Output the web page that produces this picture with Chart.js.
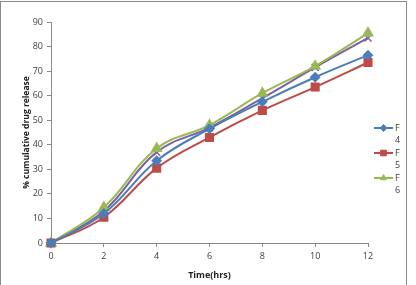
<!DOCTYPE html>
<html><head><meta charset="utf-8">
<script src="https://cdn.jsdelivr.net/npm/chart.js@4/dist/chart.umd.min.js"></script>
<style>
html,body{margin:0;padding:0;background:#fff;}
#wrap{position:absolute;left:0;top:0;width:416px;height:285px;}
#frame{position:absolute;left:0;top:1px;width:407px;height:290px;border:1px solid #8a8a8a;box-sizing:border-box;pointer-events:none;}
</style></head>
<body>
<div id="wrap"><canvas id="c" width="416" height="285"></canvas><div id="frame"></div></div>
<script>
const times = [0, 2, 4, 6, 8, 10, 12];
const F4 = [0, 12, 33.5, 46.5, 57.5, 67.5, 76.5];
const F5 = [0, 10.5, 30.5, 43, 54, 63.5, 73.5];
const F6 = [0, 14.5, 38.5, 48, 61, 72, 85.5];
const F7 = [0, 13, 37, 47, 59, 71.5, 83.5];
const yTicks = [0,10,20,30,40,50,60,70,80,90];
const legendNames = [["F","4"],["F","5"],["F","6"]];

const font = "'Open Sans', 'Liberation Sans', sans-serif";
function pts(arr){ return times.map((t,i)=>({x:t,y:arr[i]})); }
const ds = [
  {label:'F4', data:pts(F4), borderColor:'#4a7ebb', backgroundColor:'#4a7ebb', pointStyle:'rectRot', pointRadius:4},
  {label:'F5', data:pts(F5), borderColor:'#be4b48', backgroundColor:'#be4b48', pointStyle:'rect', pointRadius:5},
  {label:'F6', data:pts(F6), borderColor:'#98b954', backgroundColor:'#98b954', pointStyle:'triangle', pointRadius:5},
  {label:'F7', data:pts(F7), borderColor:'#7d60a0', backgroundColor:'#7d60a0', pointStyle:'crossRot', pointRadius:5, pointBorderWidth:1.5}
].map(d=>Object.assign({borderWidth:2, tension:0.4, fill:false, clip:false, pointHoverRadius:d.pointRadius}, d));

const legendPlugin = {
  id:'customLegend',
  afterDraw(chart){
    const ctx = chart.ctx;
    ctx.save();
    ctx.font = "9px " + font;
    ctx.textBaseline = 'middle';
    const ys = [128, 153, 178];
    for(let i=0;i<3;i++){
      const d = ds[i], y = ys[i];
      ctx.strokeStyle = d.borderColor; ctx.fillStyle = d.borderColor; ctx.lineWidth = 2;
      ctx.beginPath(); ctx.moveTo(374,y); ctx.lineTo(393,y); ctx.stroke();
      ctx.lineWidth = 1;
      Chart.helpers.drawPoint(ctx, {pointStyle:d.pointStyle, radius: d.pointStyle==='rect'?4:3.5, rotation:0, borderWidth:1}, 383.5, y);
      ctx.fillStyle = '#404040';
      ctx.textAlign = 'left';
      ctx.fillText(legendNames[i][0], 395, y+0.5);
      ctx.fillText(legendNames[i][1], 395, y+12.5);
    }
    ctx.restore();
  }
};

new Chart(document.getElementById('c'), {
  type:'line',
  data:{datasets:ds},
  plugins:[legendPlugin],
  options:{
    responsive:false, animation:false, devicePixelRatio:1,
    layout:{padding:{left:17, top:22, right:48, bottom:0}},
    plugins:{legend:{display:false}, tooltip:{enabled:false}},
    scales:{
      x:{type:'linear', min:0, max:12,
        afterFit(s){ s.height = 42; },
        afterBuildTicks(s){ s.ticks = times.map(v=>({value:v})); },
        ticks:{color:'#404040', font:{family:font, size:9}, padding:4},
        grid:{drawOnChartArea:false, drawTicks:true, tickLength:4, color:'#8a8a8a'},
        border:{color:'#8a8a8a'},
        title:{display:true, text:'Time(hrs)', color:'#222', font:{family:font, size:9, weight:'bold'}, padding:{top:1}}
      },
      y:{min:0, max:90,
        afterFit(s){ s.width = 34; },
        afterBuildTicks(s){ s.ticks = yTicks.map(v=>({value:v})); },
        ticks:{color:'#404040', font:{family:font, size:9}, padding:4},
        grid:{drawOnChartArea:false, drawTicks:true, tickLength:4, color:'#8a8a8a'},
        border:{color:'#8a8a8a'},
        title:{display:true, text:'% cumulative drug release', color:'#222', font:{family:font, size:8.5, weight:'bold'}, padding:{bottom:1}}
      }
    }
  }
});
</script>
</body></html>
